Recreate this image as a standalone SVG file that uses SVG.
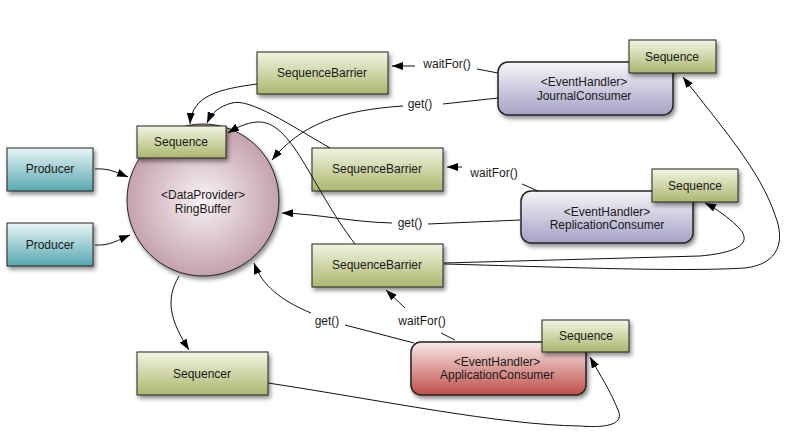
<svg xmlns="http://www.w3.org/2000/svg" width="787" height="436" viewBox="0 0 787 436">
<defs>
<linearGradient id="gGreen" x1="0" y1="0" x2="0" y2="1"><stop offset="0" stop-color="#f3f4e1"/><stop offset="1" stop-color="#acb66f"/></linearGradient>
<linearGradient id="gTeal" x1="0" y1="0" x2="0" y2="1"><stop offset="0" stop-color="#e8f5f6"/><stop offset="1" stop-color="#58a8b0"/></linearGradient>
<linearGradient id="gLav" x1="0" y1="0" x2="0" y2="1"><stop offset="0" stop-color="#f6f5fa"/><stop offset="1" stop-color="#a5a2c4"/></linearGradient>
<linearGradient id="gRed" x1="0" y1="0" x2="0" y2="1"><stop offset="0" stop-color="#f8e9e9"/><stop offset="1" stop-color="#c04e48"/></linearGradient>
<radialGradient id="gCircle" cx="0.5" cy="0.5" r="0.5"><stop offset="0" stop-color="#f8f3f5"/><stop offset="1" stop-color="#c5a2ad"/></radialGradient>
<filter id="sh" x="-20%" y="-20%" width="150%" height="160%"><feDropShadow dx="2" dy="3" stdDeviation="2" flood-color="#000" flood-opacity="0.45"/></filter>
<marker id="arr" markerUnits="userSpaceOnUse" markerWidth="12" markerHeight="10" refX="11" refY="4" orient="auto"><path d="M0,0 L11,4 L0,8 Z" fill="#000"/></marker>
</defs>
<style>
.box{stroke:#222;stroke-width:1;filter:url(#sh)}
.green{fill:url(#gGreen)}
.teal{fill:url(#gTeal)}
.lav{fill:url(#gLav);stroke-width:1.5}
.red{fill:url(#gRed);stroke-width:1.5}
text{font-family:"Liberation Sans",Arial,sans-serif;font-size:12px;fill:#1a1a1a;text-anchor:middle}
.c{fill:none;stroke:#111;stroke-width:1}
.a{marker-end:url(#arr)}
</style>
<rect width="787" height="436" fill="#fff"/>

<g id="producer1"><rect class="box teal" x="7" y="148" width="86" height="43"/><text x="50" y="173">Producer</text></g>
<g id="producer2"><rect class="box teal" x="7" y="223" width="86" height="43"/><text x="50" y="249">Producer</text></g>

<g id="ringbuffer"><circle class="box" cx="203" cy="200" r="76" fill="url(#gCircle)"/><text x="203" y="199">&lt;DataProvider&gt;</text><text x="203" y="213">RingBuffer</text></g>
<g id="rbSequence"><rect class="box green" x="137" y="126" width="89" height="32"/><text x="181" y="146">Sequence</text></g>

<g id="sequenceBarrier1"><rect class="box green" x="257" y="52" width="131" height="42"/><text x="322" y="77">SequenceBarrier</text></g>
<g id="sequenceBarrier2"><rect class="box green" x="312" y="148" width="131" height="43"/><text x="377" y="173">SequenceBarrier</text></g>
<g id="sequenceBarrier3"><rect class="box green" x="312" y="244" width="131" height="43"/><text x="377" y="269">SequenceBarrier</text></g>

<g id="journalConsumer"><rect class="box lav" x="498" y="62" width="175" height="53" rx="10"/><text x="584" y="86">&lt;EventHandler&gt;</text><text x="584" y="100">JournalConsumer</text></g>
<g id="journalSequence"><rect class="box green" x="629" y="40" width="87" height="33"/><text x="672" y="61">Sequence</text></g>

<g id="replicationConsumer"><rect class="box lav" x="521" y="191" width="172" height="52" rx="10"/><text x="607" y="216">&lt;EventHandler&gt;</text><text x="607" y="229">ReplicationConsumer</text></g>
<g id="replicationSequence"><rect class="box green" x="652" y="169" width="86" height="33"/><text x="695" y="190">Sequence</text></g>

<g id="applicationConsumer"><rect class="box red" x="411" y="342" width="175" height="53" rx="10"/><text x="497" y="366">&lt;EventHandler&gt;</text><text x="497" y="379">ApplicationConsumer</text></g>
<g id="applicationSequence"><rect class="box green" x="542" y="320" width="87" height="32"/><text x="586" y="340">Sequence</text></g>

<g id="sequencer"><rect class="box green" x="137" y="352" width="131" height="43"/><text x="202" y="378">Sequencer</text></g>

<g id="connectors">
<path class="c a" d="M95,169 C108,168 116,172 128,177"/>
<path class="c a" d="M95,245 C110,246 118,240 130,235"/>
<path class="c a" d="M257,84 C220,89 192,95 190,124"/>
<path class="c a" d="M330,148 C290,125 250,98 232,103 C220,106 212,112 207,123"/>
<path class="c a" d="M355,244 C310,185 292,120 257,122 C245,123 236,128 228,133"/>
<path class="c" d="M498,73 L477,69"/>
<path class="c a" d="M415,66 L392,66"/>
<text x="447" y="68">waitFor()</text>
<path class="c" d="M498,98 L443,104"/>
<text x="420" y="108">get()</text>
<path class="c a" d="M403,106 C340,110 300,125 272,160"/>
<path class="c" d="M538,191 L522,184"/>
<path class="c a" d="M462,167 L447,167"/>
<text x="494" y="177">waitFor()</text>
<path class="c" d="M520,220 L428,224"/>
<text x="410" y="227">get()</text>
<path class="c a" d="M392,223 C350,222 320,214 282,213"/>
<path class="c" d="M455,340 L441,333"/>
<path class="c a" d="M405,308 L386,290"/>
<text x="422" y="325">waitFor()</text>
<path class="c" d="M414,343 L345,325"/>
<text x="327" y="325">get()</text>
<path class="c a" d="M311,313 C280,300 262,285 254,263"/>
<path class="c a" d="M179,276 C165,300 170,320 189,350"/>
<path class="c a" d="M268,383 C380,400 500,425 580,426 C605,428 625,425 618,410 C610,390 600,375 590,357"/>
<path class="c a" d="M444,263 L700,256 C745,252 752,240 737,226 C728,217 715,208 705,203"/>
<path class="c a" d="M444,264 C560,267 680,272 745,268 C780,264 785,240 775,215 C760,170 720,125 683,77"/>
</g>
</svg>
